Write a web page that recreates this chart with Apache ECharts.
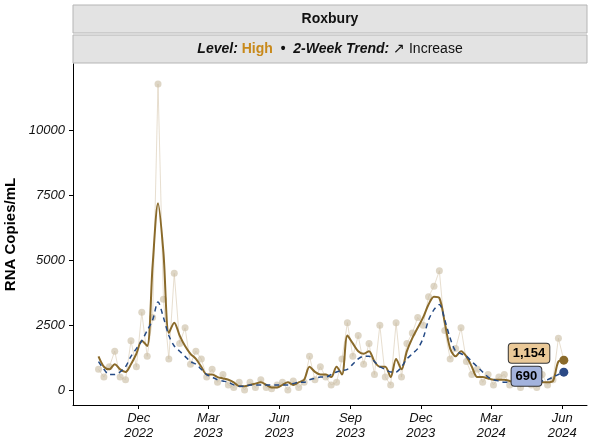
<!DOCTYPE html>
<html><head><meta charset="utf-8">
<script src="https://cdn.jsdelivr.net/npm/echarts@6/dist/echarts.min.js"></script>
<style>html,body{margin:0;padding:0;background:#fff}#c{width:589px;height:437px}</style>
</head><body><div id="c"></div>
<script>
// weekly samples starting 2022-10-10 (values in thousands of copies/mL)
var startDate = '2022-10-10';
var rawVals = [0.8,0.5,0.9,1.5, 0.5,0.4,1.9,0.9, 3.0,1.3,2.8,11.8, 3.5,1.2,4.5,1.8,2.4,
  1.0,1.5,1.2,0.5, 0.8,0.3,0.6,0.2, 0.1,0.3,0.0,0.3, 0.1,0.4,0.1,0.05,0.2,
  0.3,0.0,0.35,0.1, 0.3,1.3,0.4,0.9, 0.5,0.2,0.3,1.2,2.6, 1.3,2.1,1.0,1.8,
  0.6,2.5,0.5,0.2,2.6, 0.5,1.8,2.2,2.8, 2.5,3.6,4.0,4.6, 2.3,1.2,1.6,2.4,1.1,
  0.6,0.8,0.3,0.6, 0.2,0.5,0.6,0.2, 0.5,0.1,0.6,0.2,0.1, 0.6,0.2,0.4,2.0,1.154];
var avgVals = [1.3,0.9,0.8,1.0, 0.8,0.7,1.0,1.4, 1.9,1.7,4.8,7.2, 5.3,2.2,2.6,2.1,1.7,
  1.4,1.2,0.9,0.6, 0.6,0.5,0.45,0.4, 0.3,0.15,0.15,0.2, 0.25,0.3,0.2,0.1,0.1,
  0.2,0.3,0.2,0.3, 0.4,0.9,0.7,0.6, 0.6,0.5,0.9,0.6,2.1, 1.8,1.5,1.4,1.5,
  1.1,0.9,0.9,0.5,1.2, 0.8,1.5,2.0,2.4, 2.8,3.3,3.6,3.55, 2.6,1.6,1.3,1.5,1.3,
  0.9,0.5,0.5,0.45, 0.4,0.4,0.4,0.35, 0.3,0.3,0.3,0.25,0.3, 0.3,0.3,0.35,1.1,1.154];
var baseVals = [1.1,0.8,0.6,0.6, 0.7,0.9,1.3,1.6, 1.9,2.3,2.7,3.4, 2.8,2.1,1.7,1.5,1.3,
  1.1,1.0,0.8,0.6, 0.5,0.4,0.35,0.3, 0.2,0.15,0.15,0.2, 0.2,0.2,0.2,0.2,0.2,
  0.2,0.2,0.25,0.3, 0.3,0.4,0.45,0.5, 0.5,0.6,0.7,0.75,0.8, 1.0,1.2,1.3,1.3,
  1.1,0.9,0.8,0.7,0.7, 0.9,1.2,1.4,1.6, 2.0,2.7,3.1,3.3, 2.7,2.0,1.5,1.4,1.3,
  1.1,0.9,0.7,0.5, 0.4,0.35,0.3,0.3, 0.3,0.3,0.3,0.3,0.3, 0.35,0.4,0.5,0.6,0.69];
var tickDates = ['2022-12-01','2023-03-01','2023-06-01','2023-09-01','2023-12-01','2024-03-01','2024-06-01'];
var yTicks = [0, 2500, 5000, 7500, 10000];

var t0 = new Date(startDate + 'T00:00:00Z').getTime();
function pairs(arr) {
    return arr.map(function (v, i) { return [t0 + i * 7 * 86400000, Math.round(v * 1000)]; });
}
var rawData = pairs(rawVals), avgData = pairs(avgVals), baseData = pairs(baseVals);
var tickTs = tickDates.map(function (d) { return new Date(d + 'T00:00:00Z').getTime(); });
var mon = ['Jan','Feb','Mar','Apr','May','Jun','Jul','Aug','Sep','Oct','Nov','Dec'];

function lastLabel(arr, bg, color, offset) {
    var d = arr.slice();
    var last = d[d.length - 1];
    d[d.length - 1] = {
        value: last, symbol: 'circle', symbolSize: 9,
        itemStyle: {color: color},
        label: {show: true, position: 'left', distance: 10, offset: offset,
            formatter: last[1].toLocaleString('en-US'),
            backgroundColor: bg, borderColor: '#333', borderWidth: 1, borderRadius: 3,
            padding: [3, 4], color: '#000', fontSize: 13, fontWeight: 'bold', fontFamily: 'Liberation Sans'}
    };
    return d;
}

var chart = echarts.init(document.getElementById('c'));
chart.setOption({
    backgroundColor: '#fff',
    animation: false,
    graphic: [
        {type: 'rect', shape: {x: 73, y: 5, width: 514, height: 28}, style: {fill: '#e3e3e3', stroke: '#b5b5b5', lineWidth: 1}},
        {type: 'text', x: 330, y: 19, style: {text: 'Roxbury', fill: '#111', font: 'bold 14px Liberation Sans', align: 'center', verticalAlign: 'middle'}},
        {type: 'rect', shape: {x: 73, y: 35, width: 514, height: 28}, style: {fill: '#e3e3e3', stroke: '#b5b5b5', lineWidth: 1}},
        {type: 'text', x: 330, y: 49, style: {
            text: '{a|Level: }{h|High}{a|  •  2-Week Trend: }{b|↗ Increase}',
            align: 'center', verticalAlign: 'middle',
            rich: {
                a: {font: 'italic bold 14px Liberation Sans', fill: '#111'},
                h: {font: 'bold 14px Liberation Sans', fill: '#c8891a'},
                b: {font: '14px Liberation Sans', fill: '#111'}
            }}}
    ],
    grid: {left: 73, right: 2, top: 64, bottom: 32, outerBoundsMode: 'none'},
    xAxis: {
        type: 'value',
        min: new Date('2022-09-07T00:00:00Z').getTime(),
        max: new Date('2024-07-03T00:00:00Z').getTime(),
        splitLine: {show: false},
        axisLine: {onZero: false, lineStyle: {color: '#000', width: 1}},
        axisTick: {customValues: tickTs, length: 4, lineStyle: {color: '#000'}},
        axisLabel: {customValues: tickTs, color: '#111', fontSize: 13, fontStyle: 'italic', fontFamily: 'Liberation Sans', lineHeight: 15, margin: 6,
            formatter: function (v) { var d = new Date(v); return mon[d.getUTCMonth()] + '\n' + d.getUTCFullYear(); }}
    },
    yAxis: {
        type: 'value', min: -575, max: 12570,
        name: 'RNA Copies/mL', nameLocation: 'middle', nameGap: 52,
        nameTextStyle: {fontSize: 15, fontWeight: 'bold', color: '#000', fontFamily: 'Liberation Sans'},
        splitLine: {show: false},
        axisLine: {show: true, onZero: false, lineStyle: {color: '#000', width: 1}},
        axisTick: {show: true, customValues: yTicks, length: 4, lineStyle: {color: '#000'}},
        axisLabel: {customValues: yTicks, color: '#111', fontSize: 13, fontStyle: 'italic', fontFamily: 'Liberation Sans',
            formatter: function (v) { return String(v); }}
    },
    series: [
        {type: 'line', data: rawData, symbol: 'circle', symbolSize: 7,
            itemStyle: {color: 'rgba(205,192,168,0.65)'},
            lineStyle: {color: 'rgba(215,200,175,0.6)', width: 1}, z: 1},
        {type: 'line', data: lastLabel(avgData, '#eac998', '#8a6a2a', [0, -7]), symbol: 'none', smooth: 0.3,
            lineStyle: {color: '#8a6a2a', width: 2}, z: 3},
        {type: 'line', data: lastLabel(baseData, '#a3b3dd', '#2b4a86', [-8, 4]), symbol: 'none', smooth: 0.3,
            lineStyle: {color: '#244a85', width: 1.5, type: [5, 4]}, z: 4}
    ]
});
</script></body></html>
